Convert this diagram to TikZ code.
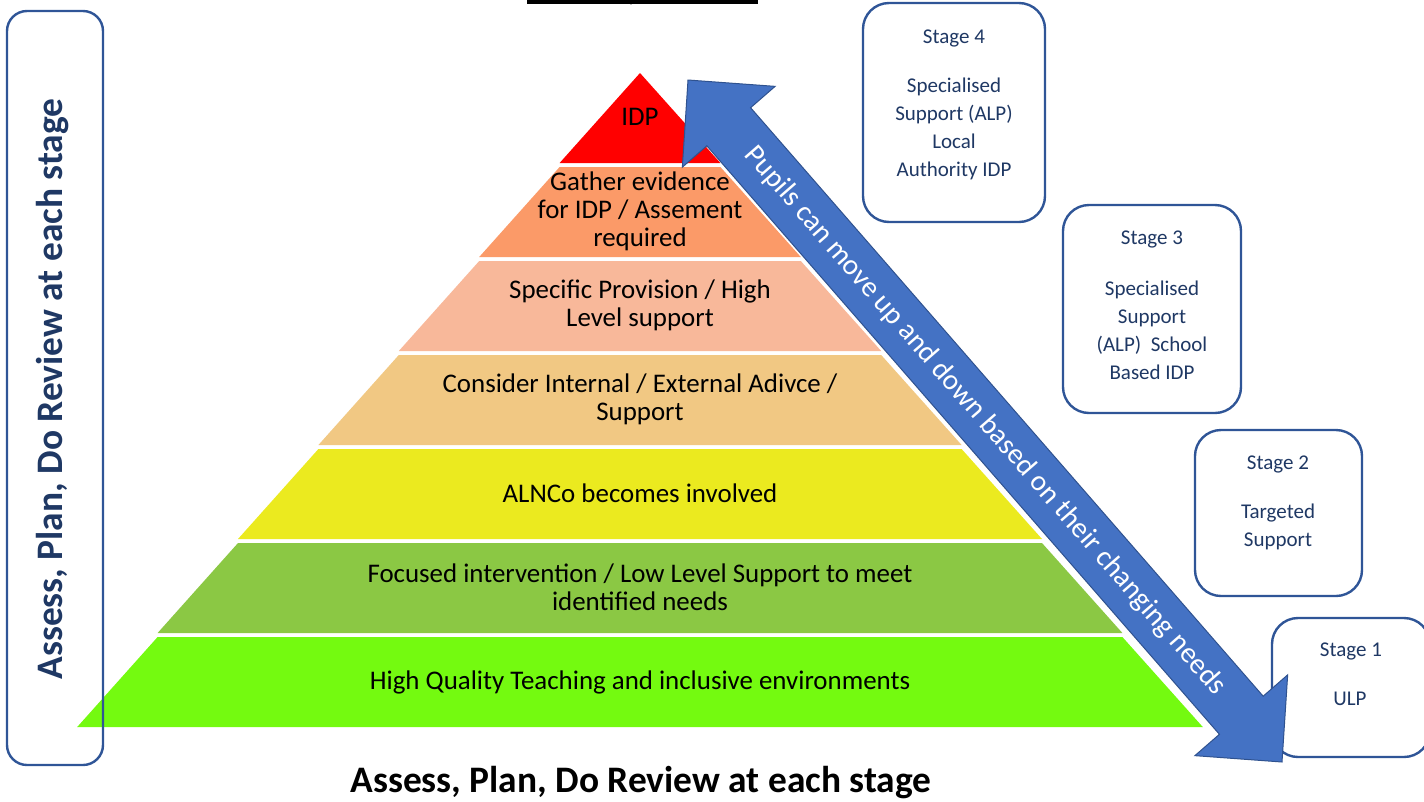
\documentclass[tikz,border=0pt]{standalone}
\usepackage{fontspec}
\setmainfont{Carlito}
\usetikzlibrary{calc}

\definecolor{layA}{HTML}{FF0000}
\definecolor{layB}{HTML}{FB9A68}
\definecolor{layC}{HTML}{F8B89A}
\definecolor{layD}{HTML}{F1C883}
\definecolor{layE}{HTML}{EBEA1F}
\definecolor{layF}{HTML}{8BC844}
\definecolor{layG}{HTML}{74FA10}
\definecolor{boxline}{HTML}{2F5597}
\definecolor{navy}{HTML}{1F3864}
\definecolor{arrowfill}{HTML}{4472C4}
\definecolor{arrowline}{HTML}{2F528F}

\tikzset{
  layertext/.style={align=center, inner sep=0pt, font=\fontsize{26.9}{28}\selectfont},
  stagebox/.style={draw=boxline, line width=2.4pt, rounded corners=26pt, fill=white},
  stagetitle/.style={text=navy, inner sep=0pt, font=\fontsize{21}{28}\selectfont},
  stagebody/.style={text=navy, align=center, inner sep=0pt, font=\fontsize{21}{28}\selectfont},
  bigcaption/.style={inner sep=0pt, font=\fontsize{37.4}{40}\selectfont\bfseries},
  arrowtext/.style={text=white, inner sep=0pt, font=\fontsize{29}{30}\selectfont},
}

\begin{document}
\begin{tikzpicture}[x=1pt, y=-1pt]
\useasboundingbox (0,0) rectangle (1424,801);
\clip (0,0) rectangle (1424,801);

% cut-off rule at the top edge
\fill (527,0) rectangle (758,3.5);
\fill (631,3) circle (1.6);

% pyramid layers, stacked with thin white gaps
\foreach \i/\c in {0/layA,1/layB,2/layC,3/layD,4/layE,5/layF,6/layG}{
  \fill[\c] ({640-80.4*\i},{73+94*\i}) -- ({640+80.4*\i},{73+94*\i})
    -- ({640+80.4*(\i+1)},{163+94*\i}) -- ({640-80.4*(\i+1)},{163+94*\i}) -- cycle;
}

\node[layertext] (l1) at (640,117) {IDP};
\node[layertext] (l2) at (640,211) {Gather evidence\\for IDP / Assement\\required};
\node[layertext] (l3) at (640,305) {Specific Provision / High\\Level support};
\node[layertext] (l4) at (640,399) {Consider Internal / External Adivce /\\Support};
\node[layertext] (l5) at (640,493) {ALNCo becomes involved};
\node[layertext] (l6) at (640,587) {Focused intervention / Low Level Support to meet\\identified needs};
\node[layertext] (l7) at (640,682) {High Quality Teaching and inclusive environments};

% side frame with the vertical caption
\draw[boxline, line width=2.4pt, rounded corners=20pt] (7,11) rectangle (103,765);
\node[bigcaption, text=navy, rotate=90] (side) at (53,389) {Assess, Plan, Do Review at each stage};

% bottom caption
\node[bigcaption] (bottom) at (641,783) {Assess, Plan, Do Review at each stage};

% stage boxes
\node[stagebox, minimum width=182pt, minimum height=219pt] (s4) at (954,112.5) {};
\node[stagetitle] (s4t) at (954,38) {Stage 4};
\node[stagebody] (s4b) at (954,129) {Specialised\\Support (ALP)\\Local\\Authority IDP};

\node[stagebox, minimum width=178pt, minimum height=208pt] (s3) at (1152,309) {};
\node[stagetitle] (s3t) at (1152,239) {Stage 3};
\node[stagebody] (s3b) at (1152,330) {Specialised\\Support\\(ALP)~~School\\Based IDP};

\node[stagebox, minimum width=167pt, minimum height=166pt] (s2) at (1278.5,513) {};
\node[stagetitle] (s2t) at (1278,464) {Stage 2};
\node[stagebody] (s2b) at (1278,526.5) {Targeted\\Support};

\node[stagebox, minimum width=158pt, minimum height=139pt] (s1) at (1351,687.5) {};
\node[stagetitle] (s1t) at (1351,651) {Stage 1};
\node[stagebody] (s1b) at (1350,699) {ULP};

% double-headed block arrow
\coordinate (t1) at (688,80);
\coordinate (t2) at (1282,762);
\coordinate (h1) at ($(t1)!62pt!(t2)$);
\coordinate (h2) at ($(t2)!62pt!(t1)$);
\fill[arrowfill, draw=arrowline, line width=1pt, line join=miter]
  (t1) -- ($(h1)!61.5pt!90:(t1)$) -- ($(h1)!29pt!90:(t1)$)
  -- ($(h2)!29pt!-90:(t2)$) -- ($(h2)!61.5pt!-90:(t2)$) -- (t2)
  -- ($(h2)!61.5pt!90:(t2)$) -- ($(h2)!29pt!90:(t2)$)
  -- ($(h1)!29pt!-90:(t1)$) -- ($(h1)!61.5pt!-90:(t1)$) -- cycle;
\path (t1) -- (t2) node[arrowtext, midway, sloped] (atext)
  {Pupils can move up and down based on their changing needs};
\end{tikzpicture}
\end{document}
